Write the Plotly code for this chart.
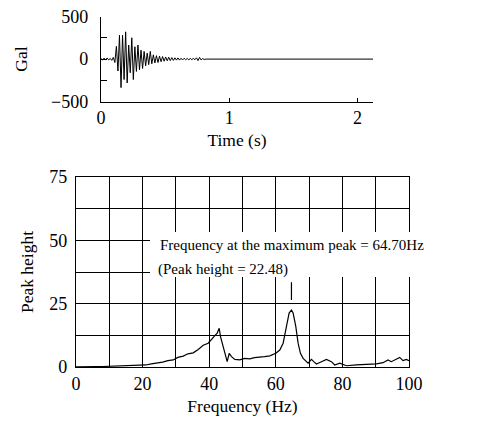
import plotly.graph_objects as go

# ---- Top panel: acceleration record (Gal) ----
time_step_s = 0.012
accel_gal = [
    5, -8, 10, -6, 12, -10, 8, -15, 20, -40,
    150, -140, 280, -335, 280, -240, 320, -280, 165, -160,
    250, -240, 145, -145, 165, -125, 105, -110, 90, -80,
    70, -65, 90, -55, 50, -45, 40, -40, 35, -30,
    30, -25, 25, -20, 22, -18, 18, -15, 15, -12,
    14, -12, 10, -10, 10, -8, 8, -8, 7, -6,
    8, -7, 15, -18, 20, -10, 6, -4,
]
time_s = [round(i * time_step_s, 3) for i in range(len(accel_gal))]
# quiet tail of the record
time_s += [0.82, 2.12]
accel_gal += [0, 0]

# ---- Bottom panel: spectrum ----
freq_hz = [0, 2, 4, 6, 8, 10, 12, 14, 16, 17.6, 19.2, 21, 22.6, 24.2, 26, 27.6, 29.2,
           30.6, 32.2, 33.6, 35.2, 36.7, 38.2, 39.7, 40.7, 41.7, 42.4, 43.0, 43.4,
           44.2, 45.0, 45.4, 46.0, 46.7, 47.7, 49.2, 50.6, 52.2, 53.6, 55.2, 56.6,
           58.2, 60.0, 61.2, 62.2, 63.2, 64.0, 64.7, 65.2, 66.0, 66.7, 67.4, 68.2,
           69.7, 70.7, 71.4, 72.2, 73.7, 75.2, 76.7, 77.7, 79.2, 81.2, 84.2, 87.2,
           90.2, 92.2, 93.7, 94.7, 96.2, 97.2, 98.2, 99.2, 100]
peak_height = [0.1, 0.2, 0.1, 0.2, 0.2, 0.3, 0.2, 0.3, 0.4, 0.4, 0.6, 0.8, 1.2, 1.4, 1.9, 2.5, 2.8,
               3.8, 4.3, 5.2, 5.6, 6.9, 8.6, 9.4, 10.7, 12.4, 13.4, 15.3, 12.0,
               8.1, 4.1, 2.1, 5.4, 4.1, 3.0, 2.8, 3.4, 3.2, 3.7, 3.8, 4.1,
               4.4, 5.4, 6.7, 9.4, 16.0, 21.3, 22.48, 21.3, 16.0, 9.4, 5.4, 3.4,
               1.5, 3.0, 2.1, 1.2, 2.1, 3.0, 2.1, 0.8, 1.5, 0.5, 0.8, 1.1,
               1.2, 1.7, 2.8, 2.1, 3.0, 3.8, 2.5, 3.0, 2.5]
peak_freq_label = 64.70
peak_height_label = 22.48

serif = "Liberation Serif"
OFF = 8                      # page body margin in the browser
W, H = 483 - OFF, 425 - OFF


def px(x):
    return (x - OFF) / W


def py(y):
    return 1 - (y - OFF) / H


fig = go.Figure()
fig.add_trace(go.Scatter(x=time_s, y=accel_gal, mode="lines",
                         line=dict(color="black", width=1), xaxis="x", yaxis="y",
                         hoverinfo="skip"))
fig.add_trace(go.Scatter(x=freq_hz, y=peak_height, mode="lines",
                         line=dict(color="black", width=1.2), xaxis="x2", yaxis="y2",
                         hoverinfo="skip"))

tick_font = dict(family=serif, size=18, color="black")
title_font = dict(family=serif, size=17.5, color="black")
note_font = dict(family=serif, size=15, color="black")

fig.update_layout(
    width=W, height=H,
    margin=dict(l=0, r=0, t=0, b=0),
    paper_bgcolor="white", plot_bgcolor="white",
    showlegend=False,
    font=dict(family=serif, size=16, color="black"),
    xaxis=dict(domain=[px(101), px(373)], range=[0, 2.12], anchor="y",
               automargin=False,
               tickvals=[0, 1, 2], ticks="inside", ticklen=4, tickcolor="black",
               showline=True, linecolor="black", linewidth=1.3,
               showgrid=False, zeroline=False, tickfont=tick_font,
               ticklabelstandoff=0,
               title=dict(text="Time (s)", font=title_font, standoff=6)),
    yaxis=dict(domain=[py(101.7), py(16.5)], range=[-500, 500], anchor="x",
               automargin=False, ticklabeloverflow="allow",
               tickvals=[-500, 0, 500], ticks="inside", ticklen=6, tickcolor="black",
               minor=dict(tickvals=[-250, 250], ticks="inside", ticklen=6, tickcolor="black"),
               showline=True, linecolor="black", linewidth=1.3,
               showgrid=False, zeroline=False, tickfont=tick_font,
               ticklabelstandoff=8,
               title=dict(text="Gal", font=title_font, standoff=18)),
    xaxis2=dict(domain=[px(76), px(409)], range=[0, 100], anchor="y2",
                automargin=False,
                tickvals=[0, 20, 40, 60, 80, 100], ticks="",
                showline=True, mirror=True, linecolor="black", linewidth=1.3,
                showgrid=True, gridcolor="black", gridwidth=1,
                minor=dict(tickvals=[10, 30, 50, 70, 90], showgrid=True,
                           gridcolor="black", gridwidth=1),
                zeroline=False, tickfont=tick_font, ticklabelstandoff=0,
                title=dict(text="Frequency (Hz)", font=title_font, standoff=6)),
    yaxis2=dict(domain=[py(367), py(177)], range=[0, 75], anchor="x2",
                automargin=False,
                tickvals=[0, 25, 50, 75], ticks="",
                showline=True, mirror=True, linecolor="black", linewidth=1.3,
                showgrid=True, gridcolor="black", gridwidth=1,
                minor=dict(tickvals=[12.5, 37.5, 62.5], showgrid=True,
                           gridcolor="black", gridwidth=1),
                zeroline=False, tickfont=tick_font, ticklabelstandoff=4,
                title=dict(text="Peak height", font=title_font, standoff=11)),
)

# white box behind the peak annotation (hides the grid there)
fig.add_shape(type="rect", xref="paper", yref="paper",
              x0=px(150), x1=px(430), y0=py(277), y1=py(232),
              fillcolor="white", line=dict(width=0), layer="above")

# marker line above the maximum peak
i_max = max(range(len(peak_height)), key=lambda i: peak_height[i])
fig.add_shape(type="line", xref="x2", yref="y2",
              x0=freq_hz[i_max], x1=freq_hz[i_max],
              y0=peak_height[i_max] + 4, y1=peak_height[i_max] + 11,
              line=dict(color="black", width=1.2))

fig.add_annotation(xref="paper", yref="paper", x=px(158), y=py(245),
                   xanchor="left", yanchor="middle", showarrow=False,
                   text=f"Frequency at the maximum peak = {peak_freq_label:.2f}Hz",
                   font=note_font)
fig.add_annotation(xref="paper", yref="paper", x=px(156), y=py(269),
                   xanchor="left", yanchor="middle", showarrow=False,
                   text=f"(Peak height = {peak_height_label:.2f})",
                   font=note_font)

fig.write_html("out.html")
